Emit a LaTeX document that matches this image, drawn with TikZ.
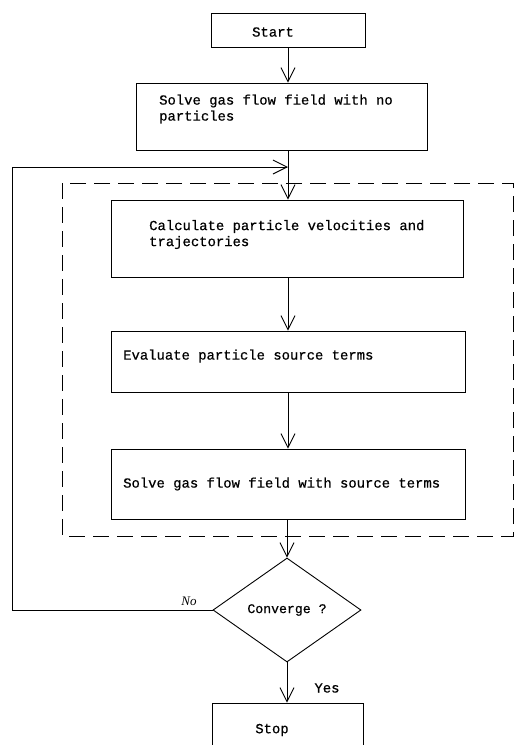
\documentclass[tikz,border=0pt]{standalone}
\usepackage{fontspec}
\setmainfont{Liberation Serif}
\setmonofont[FakeBold=0.6]{Liberation Mono}
\usetikzlibrary{arrows.meta,shapes.geometric}
\begin{document}
\begin{tikzpicture}[x=1pt,y=-1pt,
  box/.style={draw, line width=0.9pt, inner sep=0pt},
  txt/.style={font=\fontsize{13.9}{16}\selectfont\ttfamily, align=left, inner sep=0pt},
  flow/.style={draw, line width=0.9pt,
    -{Straight Barb[length=14pt,width=14pt,line width=0.9pt]}},
  frame/.style={draw, line width=0.8pt, dash pattern=on 16pt off 8pt},
]
\useasboundingbox (0,0) rectangle (515,745);

% process boxes
\node[box, minimum width=154pt, minimum height=34pt] (start) at (288,30) {};
\node[txt] (startT) at (273,32) {Start};

\node[box, minimum width=291pt, minimum height=67pt] (solve1) at (281.5,116.5) {};
\node[txt, anchor=west] (solve1T) at (159,109) {Solve gas flow field with no\\particles};

\node[box, minimum width=352pt, minimum height=77pt] (calc) at (287,238.5) {};
\node[txt, anchor=west] (calcT) at (149,234.5) {Calculate particle velocities and\\trajectories};

\node[box, minimum width=354pt, minimum height=61pt] (eval) at (288,361.5) {};
\node[txt, anchor=west] (evalT) at (123,356) {Evaluate particle source terms};

\node[box, minimum width=354pt, minimum height=70pt] (solve2) at (288,484) {};
\node[txt, anchor=west] (solve2T) at (123,484) {Solve gas flow field with source terms};

% decision
\node[diamond, draw, line width=0.9pt, minimum width=148pt, minimum height=104pt,
      inner sep=0pt, font=\fontsize{13.2}{15}\selectfont\ttfamily] (conv) at (287,610) {Converge ?};

\node[box, minimum width=151pt, minimum height=57pt] (stop) at (287.5,731.5) {};
\node[txt] (stopT) at (272,730) {Stop};

% iteration frame
\draw[frame] (62,183) rectangle (513,536);

% loop-back path
\coordinate (loopT) at (12,167);
\coordinate (merge) at (288,167);

% connectors
\draw[flow] (start) -- (start |- solve1.north);
\draw[flow] (start |- solve1.south) -- (start |- calc.north);
\draw[flow] (start |- calc.south) -- (start |- eval.north);
\draw[flow] (start |- eval.south) -- (start |- solve2.north);
\draw[flow] (conv.north |- solve2.south) -- (conv.north);
\draw[flow] (conv.south) -- (conv.south |- stop.north);
\draw[flow] (conv.west) -| (loopT) -- (merge);

% branch labels
\node[font=\fontsize{13}{15}\selectfont\itshape, inner sep=0pt] (noL) at (189,601) {No};
\node[txt] (yesL) at (327,688) {Yes};
\end{tikzpicture}
\end{document}
